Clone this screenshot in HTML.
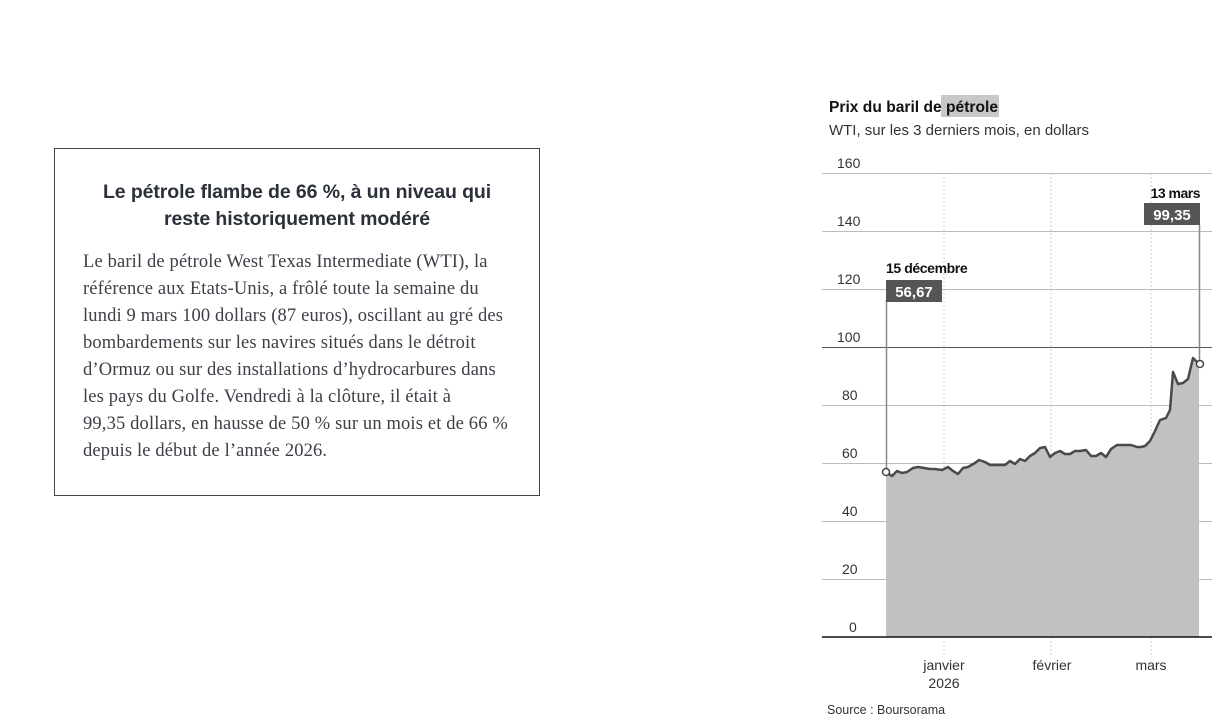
<!DOCTYPE html>
<html><head><meta charset="utf-8"><style>
body{margin:0;width:1223px;height:728px;background:#fff;position:relative;overflow:hidden;font-family:"Liberation Sans",sans-serif}
.box{position:absolute;left:54px;top:148px;width:484px;height:346px;border:1px solid #444}
.t{position:absolute;left:0;width:484px;top:30px;text-align:center;font-weight:bold;font-size:19.5px;line-height:27px;color:#2b303a;letter-spacing:-0.1px}
.b{position:absolute;left:28px;top:100px;font-family:"Liberation Serif",serif;font-size:18.5px;letter-spacing:0.15px;line-height:27px;color:#3b3f46;white-space:nowrap}
</style></head><body>
<div class="box"><div class="t">Le pétrole flambe de 66 %, à un niveau qui<br>reste historiquement modéré</div>
<div class="b">Le baril de pétrole West Texas Intermediate (WTI), la<br>référence aux Etats-Unis, a frôlé toute la semaine du<br>lundi 9 mars 100 dollars (87 euros), oscillant au gré des<br>bombardements sur les navires situés dans le détroit<br>d’Ormuz ou sur des installations d’hydrocarbures dans<br>les pays du Golfe. Vendredi à la clôture, il était à<br>99,35 dollars, en hausse de 50 % sur un mois et de 66 %<br>depuis le début de l’année 2026.</div></div>
<svg width="1223" height="728" style="position:absolute;left:0;top:0" font-family="Liberation Sans, sans-serif">
<rect x="941" y="95" width="58" height="22" fill="#c8c8c8"/>
<text x="829" y="112" font-size="15.5" font-weight="bold" fill="#111" textLength="169" lengthAdjust="spacingAndGlyphs">Prix du baril de pétrole</text>
<text x="829" y="135" font-size="14.5" fill="#333" textLength="260" lengthAdjust="spacingAndGlyphs">WTI, sur les 3 derniers mois, en dollars</text>
<g stroke="#ccc" stroke-dasharray="2,2" stroke-width="1"><line x1="944" y1="173" x2="944" y2="655"/><line x1="1051" y1="173" x2="1051" y2="655"/><line x1="1151" y1="173" x2="1151" y2="655"/></g>
<g stroke="#bbb" stroke-width="1"><line x1="822" y1="173.5" x2="1212" y2="173.5"/><line x1="822" y1="231.5" x2="1212" y2="231.5"/><line x1="822" y1="289.5" x2="1212" y2="289.5"/><line x1="822" y1="405.5" x2="1212" y2="405.5"/><line x1="822" y1="463.5" x2="1212" y2="463.5"/><line x1="822" y1="521.5" x2="1212" y2="521.5"/><line x1="822" y1="579.5" x2="1212" y2="579.5"/></g>
<line x1="822" y1="347.5" x2="1212" y2="347.5" stroke="#555"/>
<g font-size="14" fill="#333"><text x="837" y="168">160</text><text x="837" y="226">140</text><text x="837" y="284">120</text><text x="837" y="342">100</text><text x="842" y="400">80</text><text x="842" y="458">60</text><text x="842" y="516">40</text><text x="842" y="574">20</text><text x="849" y="632">0</text></g>
<polygon fill="#c1c1c1" points="886,637 886,472 892,476 897,471 902,473 907,472 913,468 918,467 924,468 930,469 935,469 942,470 948,467 953,471 958,474 963,468 968,467 975,463 979,460 985,462 990,465 1000,465 1005,465 1010,461 1015,464 1020,459 1025,461 1030,456 1035,453 1040,448 1045,447 1050,457 1055,453 1060,451 1065,454 1070,454 1075,451 1080,451 1086,450 1091,456 1096,456 1101,453 1106,457 1111,449 1117,445 1126,445 1131,445 1137,447 1141,447 1145,446 1150,441 1155,431 1160,420 1166,418 1170,410 1173,372 1178,384 1183,383 1188,379 1193,358 1199,364 1199,637"/>
<polyline fill="none" stroke="#4a4a4a" stroke-width="2.5" stroke-linejoin="round" points="886,472 892,476 897,471 902,473 907,472 913,468 918,467 924,468 930,469 935,469 942,470 948,467 953,471 958,474 963,468 968,467 975,463 979,460 985,462 990,465 1000,465 1005,465 1010,461 1015,464 1020,459 1025,461 1030,456 1035,453 1040,448 1045,447 1050,457 1055,453 1060,451 1065,454 1070,454 1075,451 1080,451 1086,450 1091,456 1096,456 1101,453 1106,457 1111,449 1117,445 1126,445 1131,445 1137,447 1141,447 1145,446 1150,441 1155,431 1160,420 1166,418 1170,410 1173,372 1178,384 1183,383 1188,379 1193,358 1199,364"/>
<line x1="886.5" y1="300" x2="886.5" y2="469" stroke="#888" stroke-width="1.5"/>
<line x1="1199.5" y1="225" x2="1199.5" y2="360" stroke="#888" stroke-width="1.5"/>
<circle cx="886" cy="472" r="3.5" fill="#fff" stroke="#444" stroke-width="1.5"/>
<circle cx="1200" cy="364" r="3.5" fill="#fff" stroke="#444" stroke-width="1.5"/>
<line x1="822" y1="637" x2="1212" y2="637" stroke="#111" stroke-width="1.5"/>
<text x="886" y="273" font-size="14" font-weight="bold" fill="#111" letter-spacing="-0.4">15 décembre</text>
<rect x="886" y="280" width="56" height="22" fill="#555"/>
<text x="914" y="297" font-size="15" font-weight="bold" fill="#fff" text-anchor="middle">56,67</text>
<text x="1200" y="198" font-size="14" font-weight="bold" fill="#111" text-anchor="end" letter-spacing="-0.5">13 mars</text>
<rect x="1144" y="203" width="56" height="22" fill="#555"/>
<text x="1172" y="220" font-size="15" font-weight="bold" fill="#fff" text-anchor="middle">99,35</text>
<g font-size="14" fill="#333" text-anchor="middle"><text x="944" y="670">janvier</text><text x="944" y="688">2026</text><text x="1052" y="670">février</text><text x="1151" y="670">mars</text></g>
<text x="827" y="714" font-size="12.5" fill="#333">Source : Boursorama</text>
</svg>
</body></html>
